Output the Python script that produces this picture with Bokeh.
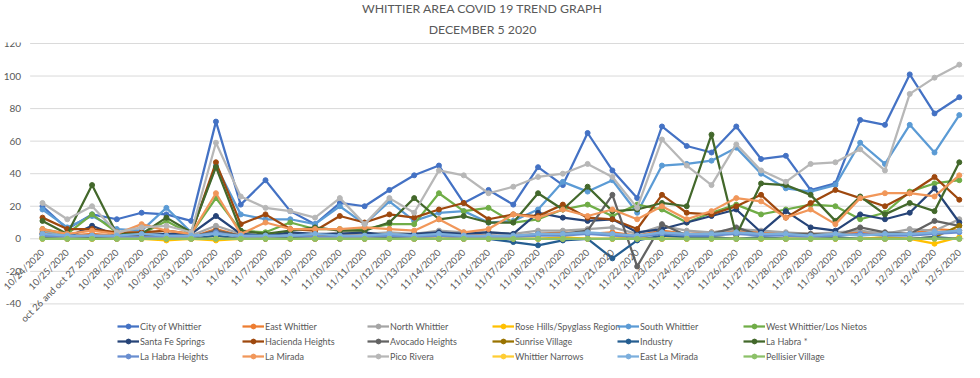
from bokeh.plotting import figure
from bokeh.models import Range1d, Legend, LegendItem, Title
from bokeh.core.properties import value
from bokeh.embed import file_html
from bokeh.resources import INLINE

dates = ["10/24/2020", "10/25/2020", "oct 26 and oct 27 2010", "10/28/2020", "10/29/2020",
         "10/30/2020", "10/31/2020", "11/5/2020", "11/6/2020", "11/7/2020", "11/8/2020",
         "11/9/2020", "11/10/2020", "11/11/2020", "11/12/2020", "11/13/2020", "11/14/2020",
         "11/15/2020", "11/16/2020", "11/17/2020", "11/18/2020", "11/19/2020", "11/20/2020",
         "11/21/2020", "11/22/2020", "11/23/2020", "11/24/2020", "11/25/2020", "11/26/2020",
         "11/27/2020", "11/28/2020", "11/29/2020", "11/30/2020", "12/1/2020", "12/2/2020",
         "12/3/2020", "12/4/2020", "12/5/2020"]

y_ticks = [-40, -20, 0, 20, 40, 60, 80, 100, 120]

city_of_whittier = [20, 6, 15, 12, 16, 15, 11, 72, 21, 36, 17, 9, 22, 20, 30, 39, 45, 22, 30, 21,
                    44, 33, 65, 42, 25, 69, 57, 53, 69, 49, 51, 30, 34, 73, 70, 101, 77, 87]
east_whittier = [4, 2, 3, 2, 3, 2, 1, 6, 2, 2, 3, 2, 3, 2, 3, 2, 4, 3, 2, 2,
                 3, 4, 3, 4, 2, 5, 3, 4, 5, 4, 3, 3, 3, 4, 3, 3, 6, 5]
north_whittier = [5, 2, 6, 3, 4, 3, 2, 8, 3, 2, 3, 2, 4, 3, 4, 3, 5, 4, 4, 3,
                  5, 5, 6, 7, 3, 8, 5, 4, 6, 5, 4, 3, 4, 5, 3, 6, 5, 12]
rose_hills = [1, 0, 0, 0, 0, -1, 0, -1, 0, 0, 0, 0, 0, 0, 1, 0, 0, 0, 0, 0,
              0, 1, 0, 0, 1, 0, 0, 1, 0, 0, 0, 0, 0, 0, 1, 0, -3, 1]
south_whittier = [18, 7, 14, 6, 5, 19, 4, 45, 15, 12, 12, 9, 20, 9, 23, 11, 16, 17, 10, 11,
                  18, 35, 29, 36, 16, 45, 46, 48, 56, 40, 31, 29, 33, 59, 46, 70, 53, 76]
west_whittier = [6, 3, 15, 4, 3, 11, 3, 25, 5, 4, 10, 6, 6, 6, 9, 9, 28, 17, 19, 10,
                 12, 18, 21, 14, 21, 18, 10, 16, 21, 15, 18, 21, 20, 12, 16, 29, 34, 36]
santa_fe_springs = [3, 1, 8, 2, 2, 3, 3, 14, 3, 2, 4, 3, 3, 4, 2, 3, 4, 3, 4, 3,
                    16, 13, 11, 12, 4, 6, 10, 14, 18, 4, 17, 7, 5, 15, 12, 16, 31, 10]
hacienda_heights = [13, 6, 6, 4, 4, 5, 3, 47, 9, 15, 6, 5, 14, 10, 15, 13, 18, 22, 12, 15,
                    14, 21, 13, 12, 6, 27, 16, 15, 20, 27, 13, 22, 30, 25, 20, 28, 38, 24]
avocado_heights = [3, 1, 2, 1, 2, 1, 1, 5, 2, 1, 2, 1, 2, 1, 2, 1, 2, 1, 2, 1,
                   3, 3, 5, 27, -17, 9, 2, 3, 7, 2, 3, 3, 2, 7, 4, 3, 11, 8]
sunrise_village = [0, 0, 0, 0, 0, 0, 0, 0, 0, 0, 0, 0, 0, 0, 0, 0, 0, 0, 0, 0,
                   0, 0, 0, 0, 0, 0, 0, 0, 0, 0, 0, 0, 0, 0, 0, 0, 1, 8]
industry = [1, 0, 1, 0, 0, 0, 0, 2, 0, 0, 1, 0, 0, 0, 1, 0, 0, 0, 0, -2,
            -4, -1, 0, -12, -1, 2, 1, 1, 0, 1, 0, 0, 1, 0, 0, 0, 1, 0]
la_habra = [11, 3, 33, 3, 3, 13, 4, 44, 5, 3, 5, 7, 5, 5, 10, 25, 12, 14, 10, 10,
            28, 18, 32, 17, 18, 22, 20, 64, 2, 34, 33, 27, 11, 26, 15, 22, 17, 47]
la_habra_heights = [2, 1, 2, 1, 1, 1, 1, 4, 1, 1, 2, 1, 1, 1, 2, 1, 2, 1, 1, 1,
                    2, 2, 3, 2, 1, 3, 2, 2, 3, 2, 2, 1, 2, 3, 2, 2, 3, 4]
la_mirada = [6, 3, 5, 3, 9, 5, 3, 28, 3, 10, 6, 6, 6, 7, 6, 5, 12, 4, 6, 15,
             13, 18, 14, 18, 12, 20, 12, 17, 25, 23, 13, 18, 9, 25, 28, 28, 26, 39]
pico_rivera = [22, 12, 20, 4, 7, 8, 4, 59, 26, 19, 17, 13, 25, 9, 25, 16, 42, 39, 28, 32,
               38, 40, 46, 38, 19, 61, 45, 33, 58, 42, 35, 46, 47, 55, 42, 89, 99, 107]
whittier_narrows = [0, 0, 0, 0, 0, 0, 0, 0, 0, 0, 0, 0, 0, 0, 0, 0, 0, 0, 0, 0,
                    0, 0, 0, 0, 0, 0, 0, 0, 0, 0, 0, 0, 0, 0, 0, 0, 0, 0]
east_la_mirada = [3, 2, 2, 2, 3, 2, 2, 3, 2, 2, 2, 3, 2, 2, 3, 2, 3, 2, 2, 2,
                  3, 3, 4, 3, 2, 4, 3, 3, 4, 3, 3, 2, 3, 2, 3, 3, 4, 5]
pellisier_village = [0, 0, 0, 0, 0, 0, 0, 0, 0, 0, 0, 0, 0, 0, 0, 0, 0, 0, 0, 0,
                     0, 0, 0, 0, 0, 0, 0, 0, 0, 0, 0, 0, 0, 0, 0, 0, 0, 0]

series_names = ["City of Whittier", "East Whittier", "North Whittier", "Rose Hills/Spyglass Region",
                "South Whittier", "West Whittier/Los Nietos", "Santa Fe Springs", "Hacienda Heights",
                "Avocado Heights", "Sunrise Village", "Industry", "La Habra *",
                "La Habra Heights", "La Mirada", "Pico Rivera", "Whittier Narrows",
                "East La Mirada", "Pellisier Village"]
series_values = [city_of_whittier, east_whittier, north_whittier, rose_hills,
                 south_whittier, west_whittier, santa_fe_springs, hacienda_heights,
                 avocado_heights, sunrise_village, industry, la_habra,
                 la_habra_heights, la_mirada, pico_rivera, whittier_narrows,
                 east_la_mirada, pellisier_village]
series_colors = ["#4472C4", "#ED7D31", "#A5A5A5", "#FFC000", "#5B9BD5", "#70AD47",
                 "#264478", "#9E480E", "#636363", "#997300", "#255E91", "#43682B",
                 "#698ED0", "#F1975A", "#B7B7B7", "#FFCD33", "#7CAFDD", "#8CC168"]

FONT = "Lato"
GREY = "#595959"

n = len(dates)
idx = list(range(n))
first_edge = -0.5
last_edge = n - 0.5

p = figure(width=964, height=362, x_range=Range1d(-1.695, 37.21), y_range=Range1d(-76.0, 120.6),
           output_backend="svg", toolbar_location=None, min_border_left=0,
           min_border_right=0, min_border_bottom=0, min_border_top=0)
p.outline_line_alpha = 0
p.axis.visible = False
p.grid.visible = False

p.add_layout(Title(text="DECEMBER 5 2020", align="center", offset=7, text_font=FONT,
                   text_font_size="12.3px", text_font_style="normal", text_color=GREY,
                   standoff=12), "above")
p.add_layout(Title(text="WHITTIER AREA COVID 19 TREND GRAPH", align="center", offset=7,
                   text_font=FONT, text_font_size="12.3px", text_font_style="normal",
                   text_color=GREY, standoff=-4), "above")

# horizontal gridlines across the category band
p.segment(x0=[first_edge] * len(y_ticks), x1=[last_edge] * len(y_ticks), y0=y_ticks, y1=y_ticks,
          line_color="#d9d9d9", line_width=1)
# y tick labels
p.text(x=[first_edge] * len(y_ticks), y=y_ticks, text=[str(t) for t in y_ticks],
       x_offset=-9, text_align="right", text_baseline="middle", text_font=value(FONT),
       text_font_size="10px", text_color=GREY)

items = []
for name, vals, col in zip(series_names, series_values, series_colors):
    lr = p.line(idx, vals, line_color=col, line_width=2.25)
    sr = p.scatter(idx, vals, size=5, fill_color=col, line_color=col)
    items.append(LegendItem(label=name, renderers=[lr, sr]))

# category labels, rotated, hanging from the zero line
p.text(x=idx, y=[0] * n, text=dates, angle=0.7854, text_align="right",
       text_baseline="middle", x_offset=0, y_offset=12, text_font=value(FONT),
       text_font_size="9.5px", text_color=GREY)

col_x = [117, 242, 367, 492, 617, 743]
for c in range(6):
    lg = Legend(items=items[c::6], location=(col_x[c], 0), orientation="vertical",
                label_text_font=FONT, label_text_font_size="9px", label_text_color=GREY,
                glyph_width=22, glyph_height=12, label_height=12, label_width=60,
                label_standoff=1, spacing=3, padding=0, margin=0,
                border_line_alpha=0, background_fill_alpha=0)
    p.add_layout(lg)

open("out.html", "w").write(file_html(p, INLINE))
